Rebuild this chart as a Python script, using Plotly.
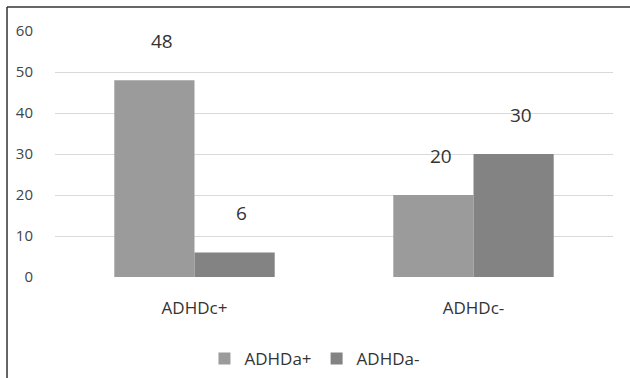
import plotly.graph_objects as go

categories = ["ADHDc+", "ADHDc-"]
series_names = ["ADHDa+", "ADHDa-"]
adhd_a_pos = [48, 20]
adhd_a_neg = [6, 30]
y_ticks = [0, 10, 20, 30, 40, 50, 60]

colors = ["#9b9b9b", "#838383"]
font_family = "Open Sans, Noto Sans, Arial"

fig = go.Figure()
for name, values, color in zip(series_names, [adhd_a_pos, adhd_a_neg], colors):
    fig.add_trace(
        go.Bar(
            name=name,
            x=categories,
            y=values,
            marker={"color": color, "line": {"width": 0}},
            offsetgroup=name,
        )
    )

# value labels sit well above each bar, as in the original
for i, values in enumerate([adhd_a_pos, adhd_a_neg]):
    for cat, val in zip(categories, values):
        fig.add_annotation(
            x=cat,
            y=val,
            text=str(val),
            showarrow=False,
            xshift=(-40 if i == 0 else 40) + 7,
            yshift=39,
            font={"family": font_family, "size": 19, "color": "#333333"},
        )

# outer frame (top and left edges only)
fig.add_shape(type="line", xref="paper", yref="paper",
              x0=-0.086, x1=1.04, y0=1.0976, y1=1.0976,
              line={"color": "#333333", "width": 1.5})
fig.add_shape(type="line", xref="paper", yref="paper",
              x0=-0.086, x1=-0.086, y0=1.0976, y1=-0.45,
              line={"color": "#333333", "width": 1.5})

fig.update_layout(
    width=630,
    height=378,
    plot_bgcolor="white",
    paper_bgcolor="white",
    font={"family": font_family, "size": 14, "color": "#444444"},
    margin={"l": 55, "r": 17, "t": 31, "b": 101, "autoexpand": False},
    barmode="group",
    bargap=0.425,
    bargroupgap=0,
    showlegend=True,
    legend={
        "orientation": "h",
        "x": 0.465,
        "xanchor": "center",
        "y": -0.26,
        "yanchor": "top",
        "font": {"family": font_family, "size": 17, "color": "#333333"},
        "itemwidth": 30,
    },
)
fig.update_xaxes(
    automargin=False,
    showgrid=False,
    showline=False,
    ticks="outside",
    ticklen=16,
    tickcolor="white",
    tickfont={"family": font_family, "size": 17, "color": "#333333"},
)
fig.update_yaxes(
    automargin=False,
    range=[0, 60],
    tickvals=y_ticks,
    showgrid=True,
    gridcolor="#d9d9d9",
    gridwidth=1,
    zeroline=False,
    showline=False,
    ticks="outside",
    ticklen=18,
    tickcolor="white",
    tickfont={"family": font_family, "size": 15, "color": "#444444"},
)

# drop the browser's default body margin so the figure sits at the window corner
fig.write_html(
    "out.html",
    config={"displayModeBar": False},
    post_script="document.body.style.margin='0';",
)
